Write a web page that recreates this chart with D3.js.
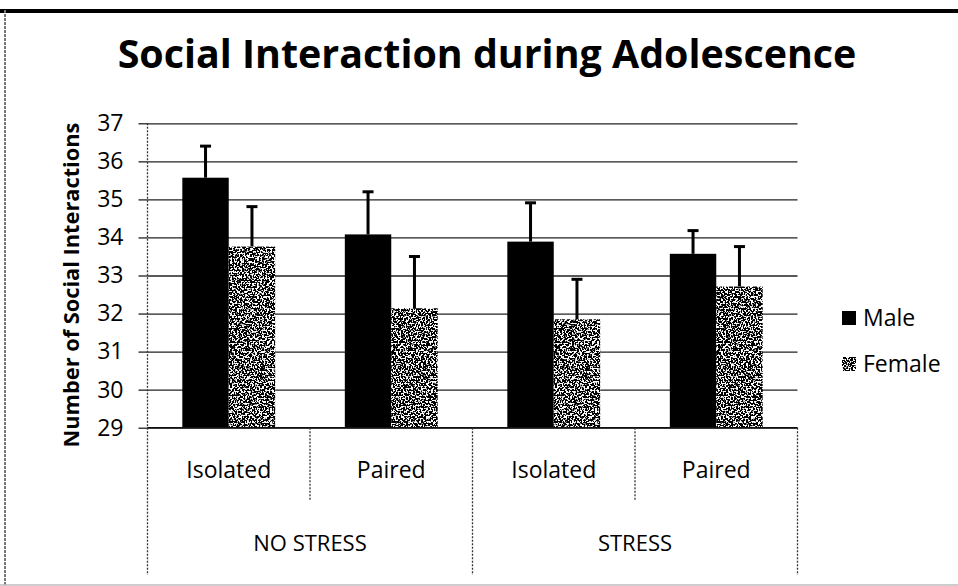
<!DOCTYPE html>
<html>
<head>
<meta charset="utf-8">
<script src="https://cdn.jsdelivr.net/npm/d3@7"></script>
<style>
  body { margin: 0; background: #fff; }
  svg { display: block; font-family: "Open Sans", sans-serif; }
</style>
</head>
<body>
<div id="chart"></div>
<script>
// Width and height
var chart_width  = 958;
var chart_height = 586;

// Data
var housing    = ['Isolated', 'Paired', 'Isolated', 'Paired'];
var stress     = ['NO STRESS', 'NO STRESS', 'STRESS', 'STRESS'];
var series     = ['Male', 'Female'];
var maleMean   = [35.57, 34.08, 33.89, 33.57];
var femaleMean = [33.76, 32.14, 31.85, 32.71];
var maleErr    = [0.83, 1.12, 1.02, 0.61];
var femaleErr  = [1.05, 1.36, 1.05, 1.05];
var yTicks     = [29, 30, 31, 32, 33, 34, 35, 36, 37];

var plot = { left: 147.5, right: 797.5, top: 123.3, bottom: 427.7 };

var cats = housing.map(function(h, i){ return i; });
var rows = cats.map(function(i){
    return { i: i, housing: housing[i], stress: stress[i],
             values: [ { s: 'Male',   v: maleMean[i],   e: maleErr[i] },
                       { s: 'Female', v: femaleMean[i], e: femaleErr[i] } ] };
});

var x0 = d3.scaleBand().domain(cats).range([plot.left, plot.right]).padding(0);
var x1 = d3.scaleBand().domain(series).range([0, x0.bandwidth()])
            .paddingInner(0).paddingOuter(0.75);
var y  = d3.scaleLinear().domain([29, 37]).range([plot.bottom, plot.top]);

var svg = d3.select('#chart').append('svg')
    .attr('width', chart_width)
    .attr('height', chart_height);

svg.append('rect').attr('width', chart_width).attr('height', chart_height).attr('fill', '#fff');

// stippled fill for the Female bars
var defs = svg.append('defs');
var f = defs.append('filter').attr('id', 'stipple');
f.append('feTurbulence').attr('type', 'fractalNoise').attr('baseFrequency', 0.6)
    .attr('numOctaves', 1).attr('seed', 7).attr('result', 'noise');
f.append('feColorMatrix').attr('in', 'noise').attr('type', 'matrix')
    .attr('values', '0 0 0 0 0  0 0 0 0 0  0 0 0 0 0  1 0 0 0 0').attr('result', 'a');
f.append('feComponentTransfer').attr('in', 'a').attr('result', 'dots')
    .append('feFuncA').attr('type', 'linear').attr('slope', -18).attr('intercept', 10.2);
f.append('feFlood').attr('flood-color', '#fff').attr('result', 'white');
var m = f.append('feMerge').attr('result', 'merged');
m.append('feMergeNode').attr('in', 'white');
m.append('feMergeNode').attr('in', 'dots');
f.append('feComposite').attr('in', 'merged').attr('in2', 'SourceAlpha').attr('operator', 'in');

// scan border
svg.append('rect').attr('x', 0).attr('y', 9).attr('width', chart_width).attr('height', 4).attr('fill', '#000');
svg.append('line').attr('x1', 5).attr('x2', 5).attr('y1', 10).attr('y2', 586)
    .attr('stroke', '#777').attr('stroke-width', 2).attr('stroke-dasharray', '3,1');
svg.append('line').attr('x1', 0).attr('x2', chart_width).attr('y1', 585).attr('y2', 585)
    .attr('stroke', '#bbb').attr('stroke-width', 1.5);

// title
var title = svg.append('text')
    .attr('x', 487).attr('y', 68)
    .attr('text-anchor', 'middle')
    .attr('font-weight', 'bold')
    .attr('font-size', 32)
    .text('Social Interaction during Adolescence');
title.attr('font-size', 32 * 739 / title.node().getComputedTextLength());

// gridlines
svg.append('g')
    .attr('transform', 'translate(' + plot.left + ',0)')
    .call(d3.axisLeft(y).tickValues(yTicks).tickSize(-(plot.right - plot.left)).tickFormat(''))
    .call(function(g){
        g.select('.domain').remove();
        g.selectAll('line').attr('stroke', '#222').attr('stroke-width', 1.3);
    });

// y axis with outer ticks and labels
svg.append('g')
    .attr('transform', 'translate(' + plot.left + ',0)')
    .call(d3.axisLeft(y).tickValues(yTicks).tickSize(9).tickPadding(15))
    .call(function(g){
        g.select('.domain').remove();
        g.selectAll('line').attr('stroke', '#222').attr('stroke-width', 1.3);
        g.selectAll('text').attr('font-size', 23).attr('fill', '#000')
            .attr('font-family', '"Open Sans", sans-serif');
    });

// bars
var grp = svg.selectAll('.grp').data(rows).enter().append('g')
    .attr('transform', function(d){ return 'translate(' + x0(d.i) + ',0)'; });

grp.selectAll('rect').data(function(d){ return d.values; }).enter().append('rect')
    .attr('x', function(d){ return x1(d.s); })
    .attr('y', function(d){ return y(d.v); })
    .attr('width', x1.bandwidth())
    .attr('height', function(d){ return y(29) - y(d.v); })
    .attr('fill', '#000')
    .attr('filter', function(d){ return d.s === 'Female' ? 'url(#stipple)' : null; });

// error bars (upper only)
var eb = grp.selectAll('.eb').data(function(d){ return d.values; }).enter().append('g');
eb.append('line')
    .attr('x1', function(d){ return x1(d.s) + x1.bandwidth() / 2; })
    .attr('x2', function(d){ return x1(d.s) + x1.bandwidth() / 2; })
    .attr('y1', function(d){ return y(d.v); })
    .attr('y2', function(d){ return y(d.v + d.e); })
    .attr('stroke', '#000').attr('stroke-width', 3);
eb.append('line')
    .attr('x1', function(d){ return x1(d.s) + x1.bandwidth() / 2 - 5.5; })
    .attr('x2', function(d){ return x1(d.s) + x1.bandwidth() / 2 + 5.5; })
    .attr('y1', function(d){ return y(d.v + d.e); })
    .attr('y2', function(d){ return y(d.v + d.e); })
    .attr('stroke', '#000').attr('stroke-width', 3);

// x axis line and category separators
svg.append('line').attr('x1', plot.left).attr('x2', plot.right)
    .attr('y1', y(29)).attr('y2', y(29)).attr('stroke', '#111').attr('stroke-width', 1.5);

var sepBottomInner = 501, sepBottomOuter = 575;
var bounds = [plot.left].concat(cats.map(function(i){ return x0(i) + x0.bandwidth(); }));
svg.selectAll('.sep').data(bounds).enter().append('line')
    .attr('x1', function(d){ return d; }).attr('x2', function(d){ return d; })
    .attr('y1', function(d, i){ return i === 0 ? plot.top : y(29); })
    .attr('y2', function(d, i){ return i % 2 === 1 ? sepBottomInner : sepBottomOuter; })
    .attr('stroke', '#333').attr('stroke-width', 1.3).attr('stroke-dasharray', '2,1.5');

svg.selectAll('.hlab').data(rows).enter().append('text')
    .attr('x', function(d){ return x0(d.i) + x0.bandwidth() / 2; })
    .attr('y', 478)
    .attr('text-anchor', 'middle')
    .attr('font-size', 23)
    .text(function(d){ return d.housing; });

var stressGroups = ['NO STRESS', 'STRESS'];
svg.selectAll('.slab').data(stressGroups).enter().append('text')
    .attr('x', function(s){
        var idx = cats.filter(function(i){ return stress[i] === s; });
        return (x0(idx[0]) + x0(idx[idx.length - 1]) + x0.bandwidth()) / 2;
    })
    .attr('y', 551)
    .attr('text-anchor', 'middle')
    .attr('font-size', 22)
    .text(function(s){ return s; });

// y axis title
var yt = svg.append('text')
    .attr('transform', 'translate(79,285) rotate(-90)')
    .attr('text-anchor', 'middle')
    .attr('font-weight', 'bold')
    .attr('font-size', 20)
    .text('Number of Social Interactions');
yt.attr('font-size', 20 * 325 / yt.node().getComputedTextLength());

// legend
var legY = [318, 364];
var leg = svg.selectAll('.leg').data(series).enter().append('g')
    .attr('transform', function(d, i){ return 'translate(842,' + legY[i] + ')'; });
leg.append('rect').attr('x', 0).attr('y', -7).attr('width', 14).attr('height', 14)
    .attr('fill', '#000')
    .attr('filter', function(d){ return d === 'Female' ? 'url(#stipple)' : null; });
leg.append('text').attr('x', 21).attr('y', 8).attr('font-size', 23)
    .text(function(d){ return d; });
</script>
</body>
</html>
